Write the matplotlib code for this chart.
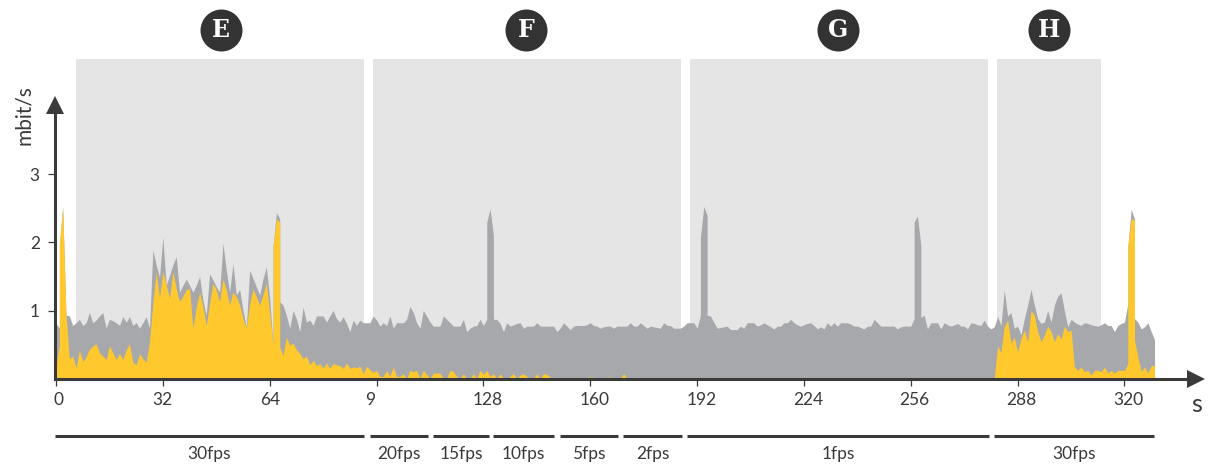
import numpy as np
import matplotlib
matplotlib.use("Agg")
import matplotlib.pyplot as plt
from matplotlib.transforms import ScaledTranslation

plt.rcParams["font.family"] = ["Lato", "DejaVu Sans"]

# one sample per second, mbit/s
total_rate = [
    .81, .74, 2.52, .93, .92, .78, .82, .87, .78, .82,
    .97, .82, .86, .92, .97, .74, .87, .85, .82, .78,
    .91, .83, .91, .78, .82, .74, .82, .91, .74, 1.89,
    1.67, 1.49, 2.08, 1.37, 1.52, 1.67, 1.79, 1.27, 1.37, 1.46,
    1.37, 1.27, 1.37, 1.50, 1.15, .93, 1.54, 1.45, 1.35, 1.27,
    1.99, 1.59, 1.27, 1.69, 1.23, 1.31, 1.00, .76, 1.59, 1.47,
    1.35, 1.23, 1.47, 1.64, 1.18, .49, 2.44, 2.35, 1.08, .93,
    .74, 1.00, .88, .69, 1.05, .83, .86, .78, .92, .92,
    .92, .83, .92, 1.00, .88, .83, .91, .81, .69, .86,
    .78, .86, .82, .82, .82, .92, .86, .77, .82, .78,
    .92, .74, .82, .82, .82, .87, 1.06, .97, .82, .74,
    1.00, .92, .83, .77, .77, .77, .92, .87, .82, .77,
    .77, .77, .87, .69, .74, .77, .78, .87, .78, .87,
    2.49, 2.11, .87, .81, .69, .82, .77, .79, .81, .82,
    .74, .77, .77, .77, .82, .77, .77, .77, .77, .77,
    .69, .74, .82, .77, .72, .77, .78, .78, .78, .79,
    .82, .78, .77, .74, .76, .77, .77, .74, .77, .77,
    .77, .77, .82, .77, .77, .82, .78, .74, .77, .76,
    .75, .74, .82, .78, .78, .74, .74, .74, .77, .82,
    .82, .82, .74, .93, 2.53, 2.40, .92, .83, .74, .75,
    .76, .77, .72, .72, .72, .77, .74, .82, .82, .82,
    .77, .79, .82, .79, .76, .73, .77, .77, .82, .82,
    .87, .82, .79, .77, .79, .81, .82, .78, .73, .76,
    .73, .82, .77, .82, .77, .82, .82, .82, .80, .77,
    .77, .75, .73, .77, .77, .87, .82, .77, .77, .77,
    .77, .77, .73, .76, .77, .77, .77, .88, 2.39, 1.96,
    .93, .73, .82, .82, .82, .73, .82, .79, .77, .79,
    .81, .77, .77, .73, .82, .81, .79, .78, .86, .77,
    .73, .76, .91, .78, 1.30, .92, .97, .74, .77, .64,
    .88, 1.08, 1.31, 1.08, .88, .81, .83, 1.00, .83, 1.08,
    1.21, 1.26, 1.00, .76, .87, .83, .80, .78, .82, .81,
    .79, .78, .77, .79, .82, .78, .78, .69, .78, .81,
    .83, 1.10, 2.49, 2.35, .83, .73, .76, .82, .69, .57,
]

motion_rate = [
    .17, .49, 2.52, .93, .29, .33, .15, .42, .25, .32,
    .43, .48, .51, .38, .33, .28, .48, .38, .28, .37,
    .28, .42, .51, .24, .20, .37, .29, .24, .54, 1.10,
    1.57, 1.18, 1.57, 1.37, 1.18, 1.57, 1.32, 1.13, 1.21, 1.31,
    1.32, .74, 1.05, 1.27, 1.05, .78, 1.10, 1.40, 1.30, 1.13,
    1.46, 1.30, 1.08, 1.27, 1.20, 1.08, .88, .74, 1.10, 1.31,
    1.20, 1.08, 1.23, 1.40, .96, .49, 2.35, 2.30, .34, .61,
    .49, .52, .42, .37, .29, .33, .20, .27, .19, .22,
    .15, .23, .15, .22, .20, .19, .15, .23, .15, .17,
    .16, .18, .07, .18, .13, .09, .12, .03, .03, .12,
    .03, .17, .03, .03, .07, 0, .12, .10, .12, 0,
    .12, .06, 0, .08, .08, .08, 0, 0, .12, .10,
    .03, 0, .07, 0, 0, .07, 0, .12, .06, .12,
    .03, .07, 0, .07, 0, 0, .03, .07, 0, .05,
    .07, .03, 0, 0, .07, 0, .07, .06, .02, 0,
    0, .02, .01, 0, 0, 0, .02, 0, 0, .02,
    .02, .02, 0, 0, 0, .02, .02, 0, 0, 0,
    .07, 0, 0, 0, 0, 0, 0, 0, .02, 0,
    0, 0, 0, 0, 0, 0, .02, 0, 0, 0,
] + [0] * 92 + [
    .48, .38, .76, .86, .52, .61, .39, .59,
    .71, .54, 1.00, .93, .69, .54, .64, .77, .69, .54,
    .66, .58, .77, .69, .71, .17, .12, .17, .10, .12,
    .05, .12, .12, .10, .17, .08, .12, .08, .12, .12,
    .12, .22, 2.35, 2.33, .32, .10, .17, .08, .19, .19,
]

# the bitrate spikes have vertical flanks, so a second value at the same second
edge_seconds = [1, 65, 67, 129, 131, 193, 195, 257, 259, 321, 323]
edge_total = [1.96, 1.94, 1.13, 2.30, .87, 2.08, .93, 2.30, .90, 1.94, .88]
edge_motion = [1.96, 1.94, .46, .12, .07, 0, 0, 0, 0, 1.94, .56]

panel_starts = [6, 94.9, 189.9, 281.8]
panel_ends = [92.2, 187.2, 279.1, 313]
panel_names = ["E", "F", "G", "H"]
panel_centers = [49.4, 140.8, 234.2, 297.4]

fps_names = ["30fps", "20fps", "15fps", "10fps", "5fps", "2fps", "1fps", "30fps"]
fps_starts = [-0.3, 94, 112.9, 130.9, 150.9, 169.8, 189, 280.9]
fps_ends = [92.2, 111.4, 129.7, 149.1, 168.3, 187.5, 279.4, 328.8]

x_ticks = [0, 32, 64, 96, 128, 160, 192, 224, 256, 288, 320]
x_labels = ["0", "32", "64", "9", "128", "160", "192", "224", "256", "288", "320"]
y_ticks = [1, 2, 3]

GRAY = "#a7a8ab"
YELLOW = "#ffc92e"
PANEL = "#e5e5e5"
DARK = "#3a3a3a"
PX_PER_S = 3.339
PX_PER_MBIT = 68

# merge the samples with the flank values (samples first at equal seconds)
seconds = np.concatenate([np.arange(len(total_rate)), edge_seconds])
order = np.argsort(seconds, kind="stable")
seconds = seconds[order]
total = np.concatenate([total_rate, edge_total])[order]
motion = np.concatenate([motion_rate, edge_motion])[order]

fig = plt.figure(figsize=(12.1, 4.65), dpi=100)
ax = fig.add_axes([55 / 1210, (465 - 378.5) / 465, 1141 / 1210, 273.5 / 465])
ax.set_xlim(-1 / PX_PER_S, 1140 / PX_PER_S)
ax.set_ylim(0, 273.5 / PX_PER_MBIT)
ax.patch.set_visible(False)

# grey phases reach above the axis arrow
for start, end in zip(panel_starts, panel_ends):
    ax.fill_between([start, end], 0, 4.70, color=PANEL, lw=0, clip_on=False, zorder=0)

ax.fill_between(seconds, 0, total, color=GRAY, lw=0, zorder=2)
ax.fill_between(seconds, 0, motion, color=YELLOW, lw=0, zorder=3)

ax.spines[["top", "right"]].set_visible(False)
for side in ["left", "bottom"]:
    ax.spines[side].set_linewidth(2.2)
    ax.spines[side].set_color(DARK)
    ax.spines[side].set_zorder(4)

ax.set_xticks(x_ticks)
ax.set_xticklabels(x_labels)
ax.set_yticks(y_ticks)
ax.tick_params(axis="x", length=5, width=0.9, color=DARK, labelcolor=DARK, labelsize=12.5, pad=5)
ax.tick_params(axis="y", length=5, width=0.9, color=DARK, labelcolor=DARK, labelsize=12.5, pad=6)

# labels do not sit exactly under their ticks in the original
for label, dx in zip(ax.get_xticklabels(), [3, 0, 0, -6, 4.5, 4, 5, 4, 3, 3.5, 3.5]):
    label.set_transform(label.get_transform() + ScaledTranslation(dx / 100, 0, fig.dpi_scale_trans))

# axis arrow heads
ax.plot(1, 0, marker=">", ms=13, color=DARK, mew=0, transform=ax.transAxes, clip_on=False, zorder=5)
ax.plot(0, 1, marker="^", ms=13, color=DARK, mew=0, transform=ax.transAxes, clip_on=False, zorder=5)

ax.text(-32 / PX_PER_S, 3.88, "mbit/s", rotation=90, ha="center", va="center", fontsize=15, color=DARK, clip_on=False)
ax.text(1141 / PX_PER_S, -0.38, "s", ha="center", va="center", fontsize=18, color=DARK)

# phase badges
ax.scatter(panel_centers, [5.13] * 4, s=914, color="#333333", lw=0, clip_on=False, zorder=5)
for center, name in zip(panel_centers, panel_names):
    ax.text(center, 5.12, name, ha="center", va="center", color="white", fontsize=17,
            fontweight="bold", family="DejaVu Serif", zorder=6)

# frame rate brackets under the axis
for start, end, name in zip(fps_starts, fps_ends, fps_names):
    ax.plot([start, end], [-0.845, -0.845], color=DARK, lw=2.2, clip_on=False, solid_capstyle="butt")
    ax.text((start + end) / 2, -1.11, name, ha="center", va="center", fontsize=12.5, color=DARK)

fig.savefig("out.png", dpi=100)
